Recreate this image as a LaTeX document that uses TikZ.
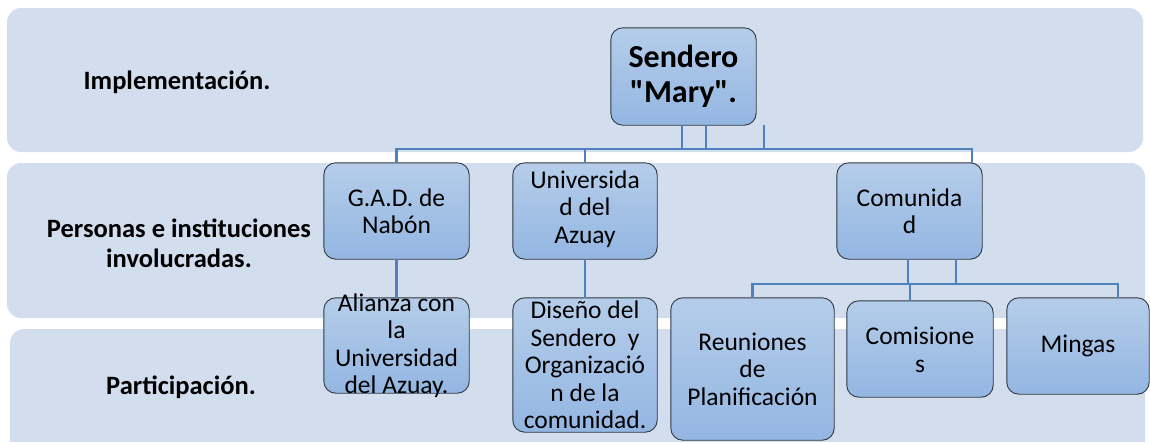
\documentclass[tikz,border=0pt]{standalone}
\usepackage{fontspec}
\setmainfont{Carlito}
\newfontfamily\qfont{Carlito}
\definecolor{band}{HTML}{D2DDEE}
\definecolor{boxtop}{HTML}{B5CDEA}
\definecolor{boxbot}{HTML}{93B6E2}
\definecolor{linkc}{HTML}{4F81BD}
\definecolor{edge}{HTML}{303840}
\tikzset{
  bandbox/.style={fill=band, draw=none, rounded corners=14pt},
  box/.style={rectangle, draw=none, inner sep=0pt},
  boxshape/.style={draw=edge, line width=0.9pt, rounded corners=12pt, top color=boxtop, bottom color=boxbot},
  boxtext/.style={align=center, font=\fontsize{25.5}{27.5}\selectfont, inner sep=0pt},
  toptext/.style={align=center, font=\fontsize{32}{35}\selectfont\bfseries, inner sep=0pt},
  leftlabel/.style={align=center, font=\fontsize{26.5}{30}\selectfont\bfseries, inner sep=0pt},
  conn/.style={draw=linkc, line width=2.4pt},
}
\begin{document}
\begin{tikzpicture}[x=1pt,y=-1pt]
\useasboundingbox (0,0) rectangle (1150,442);
% bands
\fill[bandbox] (7,8) rectangle (1143,152);
\fill[bandbox] (7,163) rectangle (1145,318);
\fill[bandbox] (10,329) rectangle (1145,455);
\fill[white] (0,442) rectangle (1150,460);
% left labels
\node[leftlabel] (lab1) at (177,82) {Implementación.};
\node[leftlabel] (lab2) at (179,243) {Personas e instituciones\\involucradas.};
\node[leftlabel] (lab3) at (181,387) {Participación.};
% boxes
\node[box, minimum width=145, minimum height=97] (sendero) at (683.5,76.5) {};
\node[box, minimum width=145, minimum height=96] (gad) at (396.5,211) {};
\node[box, minimum width=144, minimum height=96] (univ) at (585,211) {};
\node[box, minimum width=145, minimum height=96] (comun) at (909.5,211) {};
\node[box, minimum width=145, minimum height=95] (alianza) at (396.5,345.5) {};
\node[box, minimum width=144, minimum height=134] (diseno) at (585,365) {};
\node[box, minimum width=163, minimum height=142] (reun) at (752.5,369) {};
\node[box, minimum width=146, minimum height=96] (comis) at (920,349) {};
\node[box, minimum width=142, minimum height=96] (mingas) at (1078,346) {};
\foreach \n in {sendero,gad,univ,comun,alianza,diseno,reun,comis,mingas}
  \path[boxshape] (\n.north west) rectangle (\n.south east);
% box texts
\node[toptext] (senderoT) at (sendero.center) {Sendero\\{\qfont\bfseries"}Mary{\qfont\bfseries"}.};
\node[boxtext] (gadT) at (gad.center) {G.A.D. de\\Nabón};
\node[boxtext] (univT) at ([yshift=2]univ.center) {Universida\\d del\\Azuay};
\node[boxtext] (comunT) at (comun.center) {Comunida\\d};
\node[boxtext] (alianzaT) at (alianza.center) {Alianza con\\la\\Universidad\\del Azuay.};
\node[boxtext] (disenoT) at (diseno.center) {Diseño del\\Sendero~ y\\Organizació\\n de la\\comunidad.};
\node[boxtext] (reunT) at (reun.center) {Reuniones\\de\\Planificación};
\node[boxtext] (comisT) at ([yshift=-1]comis.center) {Comisione\\s};
\node[boxtext] (mingasT) at (mingas.center) {Mingas};
% connector coordinates
\coordinate (busR) at (972,149);
\coordinate (s1) at (682,149);
\coordinate (s2) at (706,149);
\coordinate (s3) at (764,149);
\coordinate (cbR) at (1118,284);
\coordinate (c1) at (908,284);
\coordinate (c2) at (956,284);
\coordinate (cm) at (910,284);
% connectors
\draw[conn] (gad.north) |- (busR) -- (busR |- comun.north);
\draw[conn] (univ.north) -- (univ.north |- busR);
\draw[conn] (s1 |- sendero.south) -- (s1);
\draw[conn] (s2 |- sendero.south) -- (s2);
\draw[conn] (s3 |- sendero.south) -- (s3);
\draw[conn] (gad.south) -- (alianza.north);
\draw[conn] (univ.south) -- (diseno.north);
\draw[conn] (c1 |- comun.south) -- (c1);
\draw[conn] (c2 |- comun.south) -- (c2);
\draw[conn] (reun.north) |- (cbR) -- (cbR |- mingas.north);
\draw[conn] (cm) -- (cm |- comis.north);
\end{tikzpicture}
\end{document}
